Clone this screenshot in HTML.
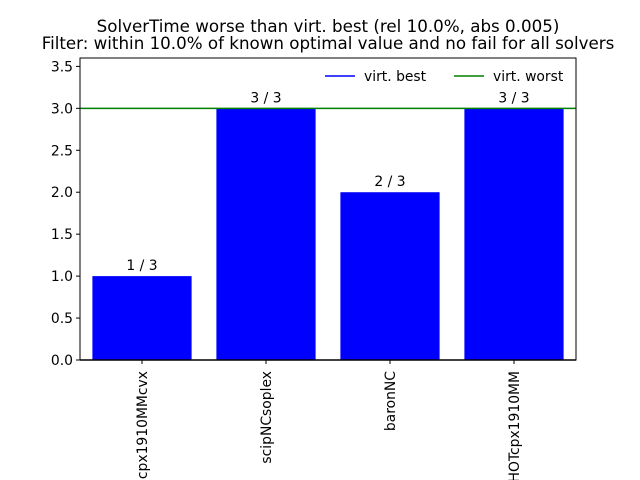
<!DOCTYPE html>
<html><head><meta charset="utf-8"><style>
body{margin:0;background:#fff}
svg{display:block;font-family:"DejaVu Sans","Liberation Sans",sans-serif}
</style></head><body>
<svg id="chart" width="640" height="480" viewBox="0 0 640 480">
<rect width="640" height="480" fill="#fff"/>
<text x="328" y="32" text-anchor="middle" font-size="16.7">SolverTime worse than virt. best (rel 10.0%, abs 0.005)</text>
<text x="328" y="49" text-anchor="middle" font-size="16.7">Filter: within 10.0% of known optimal value and no fail for all solvers</text>
<g id="plot"></g>
</svg>
<script>
const categories = ["cpx1910MMcvx","scipNCsoplex","baronNC","HOTcpx1910MM"];
const values = [1,3,2,3];
const totals = [3,3,3,3];
const virtWorst = [3.0];
const yTicks = [0.0,0.5,1.0,1.5,2.0,2.5,3.0,3.5];
const yTickLabels = ["0.0","0.5","1.0","1.5","2.0","2.5","3.0","3.5"];

const L=80,R=576,T=58,B=360,yMax=3.6;
const xs=i=>L+(i+0.5)*(R-L)/categories.length;
const ys=v=>B-v/yMax*(B-T);
const bw=(R-L)/categories.length*0.8;
const g=document.getElementById('plot');
const NS='http://www.w3.org/2000/svg';
function mk(tag,attrs,txt){const e=document.createElementNS(NS,tag);for(const k in attrs)e.setAttribute(k,attrs[k]);if(txt!==undefined)e.textContent=txt;g.appendChild(e);return e;}
const FS='13.9';
values.forEach((v,i)=>{
  const b=mk('rect',{x:xs(i)-bw/2,y:ys(v),width:bw,height:B-ys(v),fill:'#0000ff'});
  
  
  const t=mk('text',{x:xs(i),y:ys(v)-6,'text-anchor':'middle','font-size':FS},v+' / '+totals[i]);
  
  
  const tk=mk('line',{x1:xs(i),x2:xs(i),y1:B,y2:B+4,stroke:'#000'});
  
  
  const xl=mk('text',{x:0,y:0,'text-anchor':'end','font-size':FS,transform:`translate(${xs(i)+5},371) rotate(-90)`},categories[i]);
  
  
});
yTicks.forEach((v,i)=>{
  const tk=mk('line',{x1:L-4,x2:L,y1:ys(v),y2:ys(v),stroke:'#000'});
  
  
  const tl=mk('text',{x:L-7,y:ys(v)+5,'text-anchor':'end','font-size':FS},yTickLabels[i]);
  
  
});
const zl=mk('line',{x1:L,x2:R,y1:ys(0),y2:ys(0),stroke:'#000','stroke-width':1.5});


const wl=mk('line',{x1:L,x2:R,y1:ys(virtWorst[0]),y2:ys(virtWorst[0]),stroke:'#008000','stroke-width':1.5});


const fr=mk('rect',{x:L,y:T,width:R-L,height:B-T,fill:'none',stroke:'#000'});


const l1=mk('line',{x1:325,x2:355,y1:76,y2:76,stroke:'#0000ff','stroke-width':1.5});


const t1=mk('text',{x:364,y:81,'font-size':FS},'virt. best');


const l2=mk('line',{x1:454,x2:484,y1:76,y2:76,stroke:'#008000','stroke-width':1.5});


const t2=mk('text',{x:493,y:81,'font-size':FS},'virt. worst');


</script>
</body></html>
